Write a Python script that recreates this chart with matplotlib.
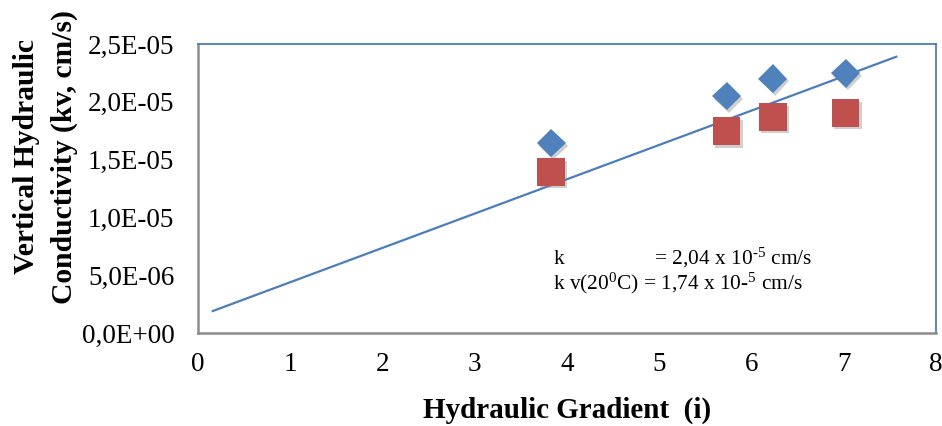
import matplotlib
matplotlib.use("Agg")
import matplotlib.pyplot as plt
import matplotlib.patheffects as pe

plt.rcParams['font.family'] = ['Liberation Serif', 'DejaVu Serif']
plt.rcParams['mathtext.fontset'] = 'custom'
plt.rcParams['mathtext.rm'] = 'Liberation Serif'
plt.rcParams['mathtext.it'] = 'Liberation Serif:italic'
plt.rcParams['mathtext.bf'] = 'Liberation Serif:bold'

# Data
gradient = [3.83, 5.73, 6.23, 7.02]
k_measured = [1.645e-05, 2.05e-05, 2.20e-05, 2.245e-05]
k_20c = [1.395e-05, 1.745e-05, 1.87e-05, 1.905e-05]
trend_x = [0.16, 7.57]
trend_y = [0.19e-05, 2.39e-05]
x_ticks = [0, 1, 2, 3, 4, 5, 6, 7, 8]
y_ticks = [0, 0.5e-05, 1.0e-05, 1.5e-05, 2.0e-05, 2.5e-05]
y_tick_labels = ['0,0E+00', '5,0E-06', '1,0E-05', '1,5E-05', '2,0E-05', '2,5E-05']

blue = '#4F81BD'
red = '#C0504D'

fig = plt.figure(figsize=(9.42, 4.26), dpi=100)
ax = fig.add_axes([198/942, 1 - 333/426, (936-198)/942, (333-44)/426])

ax.plot(trend_x, trend_y, color='#4A7EBB', lw=1.6, zorder=2)

shadow = [pe.SimplePatchShadow(offset=(1.5, -2), shadow_rgbFace='#888888', alpha=0.4), pe.Normal()]
ax.plot(gradient, k_measured, linestyle='none', marker='D', markersize=14.5,
        color=blue, markeredgewidth=0, zorder=3, path_effects=shadow)
ax.plot(gradient, k_20c, linestyle='none', marker='s', markersize=20,
        color=red, markeredgewidth=0, zorder=3, path_effects=shadow)

ax.set_xlim(0, 8)
ax.set_ylim(0, 2.5e-05)
ax.set_xticks(x_ticks)
ax.set_xticklabels([str(t) for t in x_ticks])
ax.set_yticks(y_ticks)
ax.set_yticklabels(y_tick_labels)
ax.tick_params(axis='both', length=0, labelsize=19.5)
ax.tick_params(axis='y', pad=17)
ax.tick_params(axis='x', pad=14)

for s in ['top', 'right']:
    ax.spines[s].set_color('#4A7EBB')
    ax.spines[s].set_linewidth(1.3)
for s in ['left', 'bottom']:
    ax.spines[s].set_color('#8C8C8C')
    ax.spines[s].set_linewidth(1.8)

ax.set_xlabel('Hydraulic Gradient  (i)', fontsize=21, fontweight='bold', labelpad=14)
fig.text(27/942, 1 - 157/426, 'Vertical Hydraulic', rotation=90, fontsize=21.3,
         fontweight='bold', ha='center', va='center')
fig.text(64/942, 1 - 157/426, 'Conductivity (kv, cm/s)', rotation=90, fontsize=21.3,
         fontweight='bold', ha='center', va='center')

ax.text(553/942, 1 - 258/426, r'k                 = 2,04 x 10$^{\text{-5}}$ cm/s', transform=fig.transFigure,
        fontsize=15.4, ha='left', va='center')
ax.text(553/942, 1 - 283/426, r'k v(20$^{0}$C) = 1,74 x 10-$^{5}$ cm/s', transform=fig.transFigure,
        fontsize=15.4, ha='left', va='center')

fig.savefig('out.png', dpi=100)
